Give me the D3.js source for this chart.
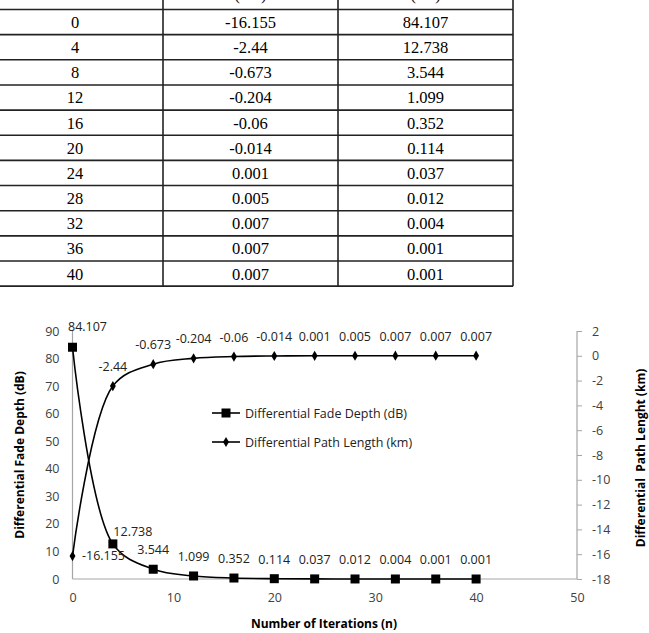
<!DOCTYPE html>
<html>
<head>
<meta charset="utf-8">
<script src="https://cdn.jsdelivr.net/npm/d3@7"></script>
<style>
  body { margin: 0; background: #fff; overflow: hidden; }
  svg { display: block; }
  .cell { font-family: "Liberation Serif", "Times New Roman", serif; font-size: 16.5px; fill: #000; }
  .tick text { font-family: "Open Sans", sans-serif; font-size: 12.5px; fill: #404040; }
  .lbl { font-family: "Open Sans", sans-serif; font-size: 12.5px; fill: #222; }
  .title { font-family: "Open Sans", sans-serif; font-size: 12px; font-weight: bold; fill: #000; }
</style>
</head>
<body>
<div id="chart"></div>
<script>
// DATA
const iterations = [0, 4, 8, 12, 16, 20, 24, 28, 32, 36, 40];
const pathLength = [-16.155, -2.44, -0.673, -0.204, -0.06, -0.014, 0.001, 0.005, 0.007, 0.007, 0.007];
const fadeDepth  = [84.107, 12.738, 3.544, 1.099, 0.352, 0.114, 0.037, 0.012, 0.004, 0.001, 0.001];
const tableHeader = ["", "(km)", "(dB)"];
const xTicks = [0, 10, 20, 30, 40, 50];
const leftTicks = [0, 10, 20, 30, 40, 50, 60, 70, 80, 90];
const rightTicks = [-18, -16, -14, -12, -10, -8, -6, -4, -2, 0, 2];

// SETUP
const W = 649, H = 633;
const svg = d3.select("#chart").append("svg")
    .attr("width", W)
    .attr("height", H);

/* ===================== TABLE ===================== */
const colEdges = [-13, 163, 338, 513];
const rowTop = 9.5, rowH = 25.15;

const table = svg.append("g");
const rows = iterations.map((n, i) => [String(n), String(pathLength[i]), String(fadeDepth[i])]);

// header row (mostly above the page, as in the source)
table.selectAll("text.head")
  .data(tableHeader)
  .join("text")
    .attr("class", "cell")
    .attr("x", (d, i) => (colEdges[i] + colEdges[i + 1]) / 2)
    .attr("y", 0)
    .attr("text-anchor", "middle")
    .text(d => d);

// body cells
rows.forEach((r, ri) => {
    r.forEach((v, ci) => {
        table.append("text")
            .attr("class", "cell")
            .attr("x", (colEdges[ci] + colEdges[ci + 1]) / 2)
            .attr("y", rowTop + ri * rowH + 18.5)
            .attr("text-anchor", "middle")
            .text(v);
    });
});

// grid lines
const rowLines = d3.range(rows.length + 1).map(i => rowTop + i * rowH);
table.selectAll("line.h")
  .data(rowLines)
  .join("line")
    .attr("x1", colEdges[0]).attr("x2", colEdges[3])
    .attr("y1", d => d).attr("y2", d => d)
    .attr("stroke", "#222").attr("stroke-width", 1.6);
table.selectAll("line.v")
  .data(colEdges.slice(1))
  .join("line")
    .attr("x1", d => d).attr("x2", d => d)
    .attr("y1", -20).attr("y2", rowLines[rowLines.length - 1])
    .attr("stroke", "#222").attr("stroke-width", 1.6);

/* ===================== CHART ===================== */
const x = d3.scaleLinear().domain([0, 50]).range([72.5, 577]);
const yFade = d3.scaleLinear().domain([0, 90]).range([579, 331]);
const yPath = d3.scaleLinear().domain([-18, 2]).range([579, 331]);

const fadeData = iterations.map((n, i) => ({ n, v: fadeDepth[i] }));
const pathData = iterations.map((n, i) => ({ n, v: pathLength[i] }));

// axes
const xAxis = svg.append("g")
    .attr("transform", `translate(0,${yFade(0)})`)
    .call(d3.axisBottom(x).tickValues(xTicks).tickSize(0).tickPadding(14));
const leftAxis = svg.append("g")
    .attr("transform", `translate(${x(0)},0)`)
    .call(d3.axisLeft(yFade).tickValues(leftTicks).tickSize(0).tickPadding(13));
const rightAxis = svg.append("g")
    .attr("transform", `translate(${x(50)},0)`)
    .call(d3.axisRight(yPath).tickValues(rightTicks).tickSize(5).tickPadding(10).tickFormat(d => String(d)));

[xAxis, leftAxis, rightAxis].forEach(a => {
    a.select(".domain").attr("stroke", "#a6a6a6").attr("stroke-width", 1.2);
    a.selectAll(".tick line").attr("stroke", "#a6a6a6");
});
rightAxis.selectAll(".domain").attr("d", `M0,${yPath(2)}V${yPath(-18)}`);
xAxis.select(".domain").attr("d", `M${x(0)},0H${x(50)}`);
leftAxis.select(".domain").attr("d", `M0,${yFade(90)}V${yFade(0)}`);

// lines
const curve = d3.curveCatmullRom.alpha(0.5);
const fadeLine = d3.line().x(d => x(d.n)).y(d => yFade(d.v)).curve(curve);
const pathLine = d3.line().x(d => x(d.n)).y(d => yPath(d.v)).curve(curve);

svg.append("path").datum(fadeData)
    .attr("d", fadeLine).attr("fill", "none")
    .attr("stroke", "#000").attr("stroke-width", 1.6);
svg.append("path").datum(pathData)
    .attr("d", pathLine).attr("fill", "none")
    .attr("stroke", "#000").attr("stroke-width", 1.6);

// markers
svg.selectAll("rect.fade")
  .data(fadeData)
  .join("rect")
    .attr("x", d => x(d.n) - 4.5)
    .attr("y", d => yFade(d.v) - 4.5)
    .attr("width", 9).attr("height", 9)
    .attr("fill", "#000");
const diamond = d3.symbol().type(d3.symbolDiamond).size(30);
svg.selectAll("path.pmark")
  .data(pathData)
  .join("path")
    .attr("transform", d => `translate(${x(d.n)},${yPath(d.v)})`)
    .attr("d", diamond)
    .attr("fill", "#000");

// data labels (default: centered above the point)
const fadeLabelShift = { 0: [15, -16], 1: [20, -8] };
const pathLabelShift = { 0: [31, 4] };
svg.selectAll("text.fl")
  .data(fadeData)
  .join("text")
    .attr("class", "lbl")
    .attr("text-anchor", "middle")
    .attr("x", (d, i) => x(d.n) + (fadeLabelShift[i] ? fadeLabelShift[i][0] : 0))
    .attr("y", (d, i) => yFade(d.v) + (fadeLabelShift[i] ? fadeLabelShift[i][1] : -15))
    .text(d => d.v);
svg.selectAll("text.pl")
  .data(pathData)
  .join("text")
    .attr("class", "lbl")
    .attr("text-anchor", "middle")
    .attr("x", (d, i) => x(d.n) + (pathLabelShift[i] ? pathLabelShift[i][0] : 0))
    .attr("y", (d, i) => yPath(d.v) + (pathLabelShift[i] ? pathLabelShift[i][1] : -15))
    .text(d => d.v);

// legend
const legend = svg.append("g");
const legendItems = ["Differential Fade Depth (dB)", "Differential Path Length (km)"];
legendItems.forEach((name, i) => {
    const ly = 413 + i * 29;
    legend.append("line")
        .attr("x1", 212).attr("x2", 240).attr("y1", ly).attr("y2", ly)
        .attr("stroke", "#000").attr("stroke-width", 1.6);
    if (i === 0) {
        legend.append("rect").attr("x", 221.5).attr("y", ly - 4.5)
            .attr("width", 9).attr("height", 9).attr("fill", "#000");
    } else {
        legend.append("path").attr("transform", `translate(226,${ly})`)
            .attr("d", diamond).attr("fill", "#000");
    }
    legend.append("text").attr("class", "lbl")
        .attr("x", 245).attr("y", ly + 4.5)
        .text(name);
});

// axis titles
svg.append("text").attr("class", "title")
    .attr("x", 324).attr("y", 628)
    .attr("text-anchor", "middle")
    .text("Number of Iterations (n)");
svg.append("text").attr("class", "title")
    .attr("transform", "translate(24,455) rotate(-90)")
    .attr("text-anchor", "middle")
    .text("Differential Fade Depth (dB)");
svg.append("text").attr("class", "title")
    .attr("transform", "translate(645,458) rotate(-90)")
    .attr("text-anchor", "middle")
    .style("white-space", "pre")
    .text("Differential  Path Lenght (km)");
</script>
</body>
</html>
